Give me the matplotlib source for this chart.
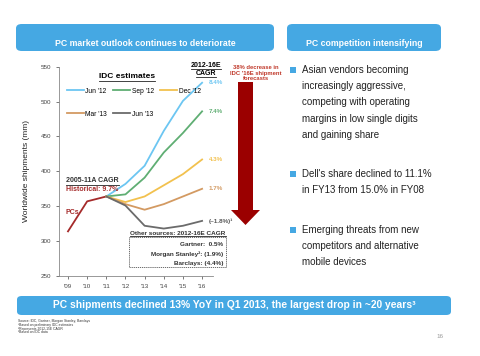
import matplotlib.pyplot as plt
from matplotlib.patches import FancyBboxPatch, Rectangle, FancyArrow
from matplotlib.lines import Line2D

plt.rcParams['font.family'] = ['Liberation Sans', 'DejaVu Sans']

W, H = 480, 356
BLUE = '#45a8e3'

years = ["'09", "'10", "'11", "'12", "'13", "'14", "'15", "'16"]
pcs = [314, 357, 364]
jun12 = [364, 382, 408, 458, 501, 527]
sep12 = [364, 367, 391, 427, 455, 486]
dec12 = [364, 356, 364, 380, 396, 417]
mar13 = [364, 353, 345, 353, 364, 375]
jun13 = [364, 351, 322, 318, 322, 329]
names = ["Jun '12", "Sep '12", "Dec '12", "Mar '13", "Jun '13"]
colors = ['#6cc6f2', '#5fae73', '#f2c14e', '#d39a62', '#6b6b6b']
cagr = ['8.4%', '7.4%', '4.3%', '1.7%', '(~1.8%)¹']
cagr_colors = ['#6cc6f2', '#5fae73', '#f2c14e', '#d39a62', '#555555']

bullets = [
    ["Asian vendors becoming", "increasingly aggressive,", "competing with operating",
     "margins in low single digits", "and gaining share"],
    ["Dell's share declined to 11.1%", "in FY13 from 15.0% in FY08"],
    ["Emerging threats from new", "competitors and alternative", "mobile devices"],
]
others = ["Gartner:  0.5%", "Morgan Stanley²: (1.9%)", "Barclays: (4.4%)"]
notes = ["Source: IDC, Gartner, Morgan Stanley, Barclays", "¹Based on preliminary IDC estimates",
         "²Represents 2012-15E CAGR", "³Based on IDC data"]


def fx(px):
    return px / W


def fy(py):
    return 1 - py / H


fig = plt.figure(figsize=(4.8, 3.56), dpi=100)


def ftext(x, y, s, **kw):
    return fig.text(fx(x), fy(y), s, **kw)


def underline(t, color='#222222'):
    fig.canvas.draw()
    bb = t.get_window_extent(fig.canvas.get_renderer())
    y = bb.y0 - 0.3
    fig.add_artist(Line2D([bb.x0 / W, bb.x1 / W], [y / H, y / H],
                          transform=fig.transFigure, color=color, lw=0.6))


# header bars
for x0, x1, title in [(16, 274, 'PC market outlook continues to deteriorate'),
                      (287, 441, 'PC competition intensifying')]:
    fig.add_artist(FancyBboxPatch((fx(x0), fy(51)), fx(x1 - x0), (51 - 24) / H,
                                  boxstyle='round,pad=0,rounding_size=0.012',
                                  transform=fig.transFigure, fc=BLUE, ec='none'))
    ftext((x0 + x1) / 2, 43, title, color='white', fontsize=6.3, fontweight='bold',
          ha='center', va='center')

# bottom banner
fig.add_artist(FancyBboxPatch((fx(17), fy(315)), fx(451 - 17), (315 - 296) / H,
                              boxstyle='round,pad=0,rounding_size=0.01',
                              transform=fig.transFigure, fc=BLUE, ec='none'))
ftext(234, 305.5, 'PC shipments declined 13% YoY in Q1 2013, the largest drop in ~20 years³',
      color='white', fontsize=7.4, fontweight='bold', ha='center', va='center')

for i, n in enumerate(notes):
    ftext(18, 321 + i * 3.8, n, fontsize=2.4, color='#333333', va='center')
ftext(443, 336, '16', fontsize=4.5, color='#999999', ha='right', va='center')

# chart
ax = fig.add_axes([fx(59), fy(276), fx(213 - 59), (276 - 66.7) / H])
x = list(range(len(years)))
ax.plot(x[:3], pcs, color='#a52a2a', lw=1.3)
series = [jun12, sep12, dec12, mar13, jun13]
handles = []
for s, c, n in zip(series, colors, names):
    h, = ax.plot(x[2:], s, color=c, lw=1.3, label=n)
    handles.append(h)
for s, lab, c in zip(series, cagr, cagr_colors):
    ax.annotate(lab, (x[-1], s[-1]), xytext=(5, 0), textcoords='offset points',
                fontsize=4.5, color=c, fontweight='bold', va='center', annotation_clip=False)

ax.set_xlim(-0.47, 7.57)
ax.set_ylim(250, 550)
ax.set_yticks([250, 300, 350, 400, 450, 500, 550])
ax.set_xticks(x)
ax.set_xticklabels(years)
ax.tick_params(labelsize=4.5, colors='#444444', length=2, width=0.5)
for sp in ['top', 'right']:
    ax.spines[sp].set_visible(False)
for sp in ['left', 'bottom']:
    ax.spines[sp].set_color('#888888')
    ax.spines[sp].set_linewidth(0.6)
ax.set_ylabel('Worldwide shipments (mm)', fontsize=6, color='#222222', labelpad=8)

order = [0, 3, 1, 4, 2]
ax.legend([handles[i] for i in order], [names[i] for i in order], ncol=3,
          loc='upper left', bbox_to_anchor=(fx(64 - 59) / fx(154), 1 - (85 - 66.7) / 209.3),
          frameon=False, fontsize=4.8, handlelength=2.6, handletextpad=0.2,
          columnspacing=0.9, labelspacing=2.4, borderaxespad=0)

# annotations
t = ftext(127, 77, 'IDC estimates', fontsize=6, fontweight='bold', ha='center', va='center')
underline(t)
t = ftext(206, 65.5, '2012-16E', fontsize=5, fontweight='bold', ha='center', va='center')
underline(t)
t = ftext(206, 73.5, 'CAGR', fontsize=5, fontweight='bold', ha='center', va='center')
underline(t)
ftext(256, 73, "38% decrease in\nIDC '16E shipment\nforecasts", fontsize=4.2, color='#c0392b',
      fontweight='bold', ha='center', va='center', linespacing=1.1)
t = ftext(66, 181, '2005-11A CAGR', fontsize=5, fontweight='bold', va='center', color='#333333')
underline(t)
ftext(66, 189.5, 'Historical: 9.7%', fontsize=5, fontweight='bold', va='center', color='#a52a2a')
ftext(65, 212, 'PCs', fontsize=5, fontweight='bold', va='center', color='#a52a2a')

fig.add_artist(FancyArrow(fx(245.5), fy(82), 0, -(225 - 82) / H, width=fx(15),
                          head_width=fx(29), head_length=(225 - 210) / H,
                          length_includes_head=True, transform=fig.transFigure,
                          fc='#9b0000', ec='none'))

t = ftext(178, 233.5, 'Other sources: 2012-16E CAGR', fontsize=4.6, fontweight='bold',
          ha='center', va='center', color='#333333')
underline(t)
fig.add_artist(Rectangle((fx(129), fy(267)), fx(226 - 129), (267 - 237) / H,
                         transform=fig.transFigure, fill=False, ec='#555555', lw=0.6, ls=(0, (1.5, 1))))
for i, s in enumerate(others):
    ftext(223, 245 + i * 9, s, fontsize=4.6, fontweight='bold', ha='right', va='center', color='#333333')

# right side bullets
starts = [70, 174, 230]
for lines, y0 in zip(bullets, starts):
    fig.add_artist(Rectangle((fx(290), fy(y0 + 3)), fx(6), 6 / H, transform=fig.transFigure,
                             fc=BLUE, ec='none'))
    for j, s in enumerate(lines):
        ftext(302, y0 + j * 16.2, s, fontsize=7, color='#222222', va='center')

fig.savefig('out.png', dpi=100)
